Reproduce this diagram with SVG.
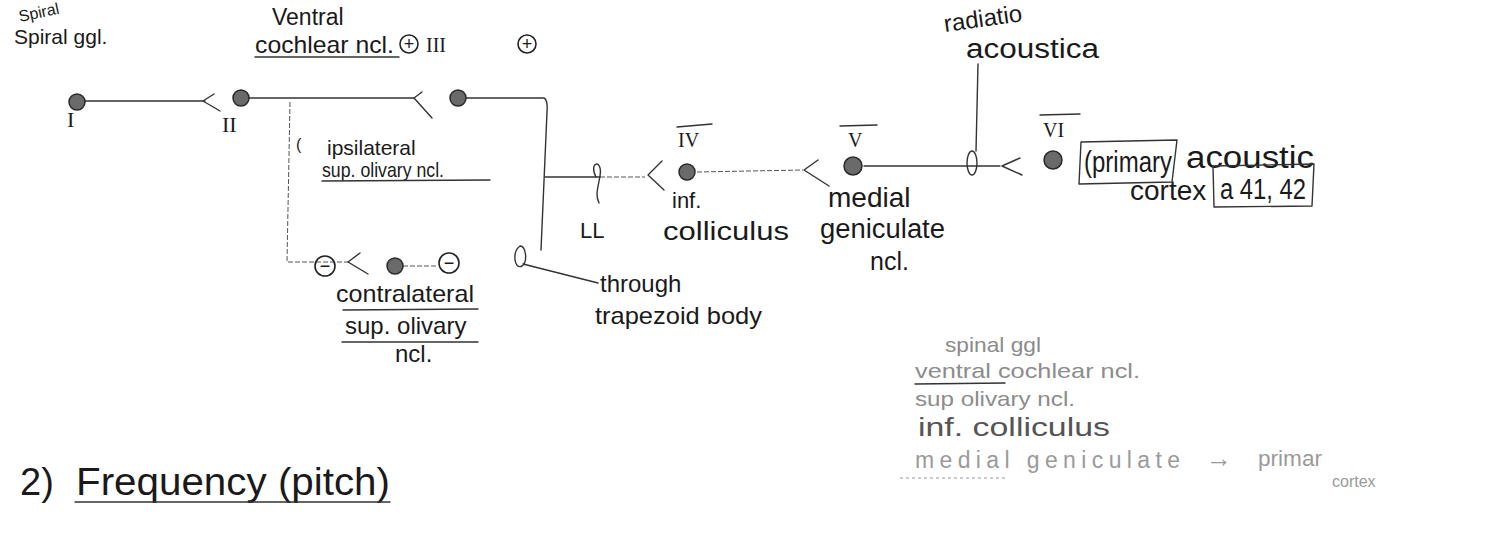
<svg xmlns="http://www.w3.org/2000/svg" width="1487" height="539" viewBox="0 0 1487 539">
<style>
text{font-family:"Liberation Sans",Arial,sans-serif;fill:#1a1a1a}
.r{font-family:"Liberation Serif","Times New Roman",serif}
.ln{fill:none;stroke:#333;stroke-width:1.4;stroke-linecap:round;stroke-linejoin:round}
.thin{fill:none;stroke:#555;stroke-width:1;stroke-dasharray:5 2}
.dot{fill:#6a6a6a;stroke:#2a2a2a;stroke-width:1.5}
.sign{fill:none;stroke:#222;stroke-width:1.6}
.g{fill:#8c8c8c}
.gl{fill:none;stroke:#999;stroke-width:1;stroke-dasharray:3 3}
</style>
<defs>
<g id="plus"><circle r="9" class="sign"/><text y="6" text-anchor="middle" font-size="18">+</text></g>
<g id="minus"><circle r="10" class="sign"/><text y="6" text-anchor="middle" font-size="18">−</text></g>
</defs>

<g id="connectors">
<path class="ln" d="M85,101 L205,101"/>
<path class="ln" d="M214,94 L203,101 L220,111"/>
<path class="ln" d="M249,98 L414,98"/>
<path class="ln" d="M422,92 L414,98 L432,118"/>
<path class="ln" d="M466,98 L544,98 Q548,100 547,112 L541,250"/>
<path class="thin" d="M290,102 L287,262 L348,262"/>
<path class="ln" d="M360,253 L348,262 L368,274"/>
<path class="thin" d="M403,266 L438,266"/>
<path class="ln" d="M545,177 L600,177"/>
<path class="thin" d="M600,177 L645,177"/>
<path class="ln" d="M596,177 C588,162 603,158 600,176 C598,188 595,195 599,203"/>
<path class="ln" d="M662,161 L648,175 L664,190"/>
<path class="thin" d="M697,172 L803,170"/>
<path class="ln" d="M818,160 L804,170 L829,186"/>
<path class="ln" d="M864,166 L1000,166"/>
<ellipse class="ln" cx="972" cy="163" rx="5" ry="12"/>
<path class="ln" d="M976,151 L978,64"/>
<path class="ln" d="M1020,158 L1002,166 L1022,175"/>
<path class="ln" d="M520,246 C512,252 514,270 522,266 C528,262 526,246 520,246 M523,264 L598,283"/>
</g>

<g id="n1">
<circle class="dot" cx="77" cy="102" r="8"/>
<text class="r" x="67" y="127" font-size="22">I</text>
<text x="20" y="22" font-size="16" transform="rotate(-12 20 22)">Spiral</text>
<text x="14" y="44" font-size="21">Spiral ggl.</text>
</g>

<g id="n2">
<circle class="dot" cx="241" cy="98" r="8"/>
<text class="r" x="222" y="132" font-size="22">II</text>
<text x="272" y="25" font-size="23">Ventral</text>
<text x="255" y="53" font-size="24" textLength="139" lengthAdjust="spacingAndGlyphs">cochlear ncl.</text>
<path class="ln" d="M255,57 L399,57"/>
<use href="#plus" x="409" y="44"/>
<text class="r" x="426" y="52" font-size="20">III</text>
<use href="#plus" x="527" y="44"/>
</g>

<g id="n3">
<circle class="dot" cx="458" cy="98" r="8"/>
<text x="296" y="150" font-size="16">(</text>
<text x="327" y="155" font-size="21">ipsilateral</text>
<text x="322" y="177" font-size="21" textLength="122" lengthAdjust="spacingAndGlyphs">sup. olivary ncl.</text>
<path class="ln" d="M322,181 L490,180"/>
</g>

<g id="n3b">
<use href="#minus" x="325" y="266"/>
<circle class="dot" cx="395" cy="266" r="8"/>
<use href="#minus" x="449" y="263"/>
<text x="336" y="302" font-size="24" textLength="138" lengthAdjust="spacingAndGlyphs">contralateral</text>
<path class="ln" d="M343,310 L478,309"/>
<text x="345" y="334" font-size="24">sup. olivary</text>
<path class="ln" d="M342,342 L478,342"/>
<text x="395" y="362" font-size="24">ncl.</text>
<text x="600" y="292" font-size="24">through</text>
<text x="595" y="324" font-size="24" textLength="167" lengthAdjust="spacingAndGlyphs">trapezoid body</text>
</g>

<g id="ll">
<text x="580" y="238" font-size="22">LL</text>
</g>

<g id="n4">
<circle class="dot" cx="687" cy="172" r="8"/>
<path class="ln" d="M677,127 L712,124"/>
<text class="r" x="678" y="147" font-size="20">IV</text>
<text x="672" y="208" font-size="22">inf.</text>
<text x="663" y="240" font-size="26" textLength="126" lengthAdjust="spacingAndGlyphs">colliculus</text>
</g>

<g id="n5">
<circle class="dot" cx="853" cy="166" r="9"/>
<path class="ln" d="M840,126 L877,125"/>
<text class="r" x="848" y="147" font-size="20">V</text>
<text x="828" y="207" font-size="28">medial</text>
<text x="820" y="238" font-size="27" textLength="125" lengthAdjust="spacingAndGlyphs">geniculate</text>
<text x="870" y="270" font-size="25">ncl.</text>
<text x="945" y="32" font-size="24" transform="rotate(-8 945 32)">radiatio</text>
<text x="966" y="58" font-size="27" textLength="133" lengthAdjust="spacingAndGlyphs">acoustica</text>
</g>

<g id="n6">
<circle class="dot" cx="1053" cy="160" r="9"/>
<path class="ln" d="M1040,115 L1080,114"/>
<text class="r" x="1043" y="137" font-size="20">VI</text>
<path class="ln" d="M1081,142 L1177,140 L1172,182 L1079,184 Z"/>
<text x="1084" y="172" font-size="29" textLength="88" lengthAdjust="spacingAndGlyphs">(primary</text>
<text x="1186" y="168" font-size="31" textLength="128" lengthAdjust="spacingAndGlyphs">acoustic</text>
<text x="1130" y="200" font-size="28">cortex</text>
<path class="ln" d="M1213,166 L1314,164 L1312,206 L1214,207 Z"/>
<text x="1220" y="199" font-size="29" textLength="86" lengthAdjust="spacingAndGlyphs">a 41, 42</text>
</g>

<g id="summary">
<text class="g" x="945" y="352" font-size="21" textLength="96" lengthAdjust="spacingAndGlyphs">spinal ggl</text>
<text class="g" x="915" y="378" font-size="21" textLength="225" lengthAdjust="spacingAndGlyphs">ventral cochlear ncl.</text>
<path class="ln" d="M915,384 L1005,383"/>
<text class="g" x="915" y="406" font-size="21" textLength="160" lengthAdjust="spacingAndGlyphs">sup olivary ncl.</text>
<text x="918" y="436" font-size="26" style="fill:#555" textLength="192" lengthAdjust="spacingAndGlyphs">inf. colliculus</text>
<text class="g" x="915" y="468" font-size="23" textLength="265" lengthAdjust="spacing" style="fill:#9a9a9a">medial geniculate</text>
<text class="g" x="1206" y="467" font-size="26" style="fill:#9a9a9a">→</text>
<text class="g" x="1258" y="466" font-size="22" textLength="64" lengthAdjust="spacingAndGlyphs" style="fill:#9a9a9a">primar</text>
<text class="g" x="1332" y="487" font-size="16" style="fill:#9a9a9a">cortex</text>
<path class="gl" d="M900,478 L1005,478"/>
</g>

<g id="title">
<text x="20" y="495" font-size="38">2)</text>
<text x="76" y="495" font-size="38" textLength="314" lengthAdjust="spacingAndGlyphs">Frequency (pitch)</text>
<path class="ln" d="M75,502 L390,502"/>
</g>
</svg>
